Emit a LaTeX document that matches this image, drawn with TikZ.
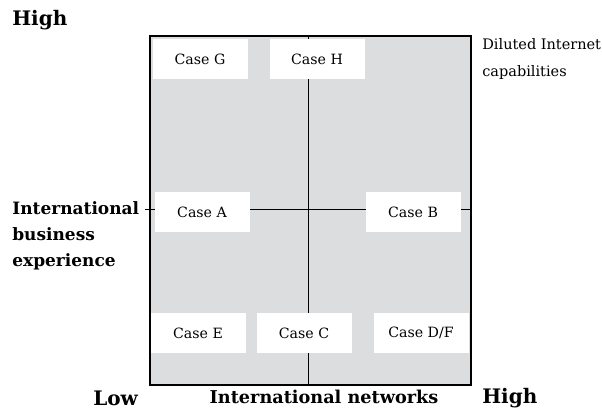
\documentclass[tikz,border=0pt]{standalone}
\usepackage{fontspec}
\setmainfont{DejaVu Serif}
\usetikzlibrary{positioning, calc}
\definecolor{fieldgray}{HTML}{DCDDDF}

\begin{document}
\begin{tikzpicture}[
  x=0.6pt, y=-0.6pt,
  casebox/.style={fill=white, minimum width=57pt, minimum height=24pt, inner sep=0pt, font=\fontsize{8.5}{10}\selectfont},
  axislabel/.style={font=\bfseries\fontsize{10.6}{15.6}\selectfont, inner sep=0pt},
  endlabel/.style={font=\bfseries\fontsize{12}{14}\selectfont, inner sep=0pt}
]
\useasboundingbox (0,0) rectangle (602,413);

% Grey field and cross lines
\coordinate (NW) at (150,36);
\coordinate (SE) at (471,385);
\fill[fieldgray] (NW) rectangle (SE);
\coordinate (midN) at (308,36);
\coordinate (midS) at (308,385);
\coordinate (midW) at (145,209);
\coordinate (midE) at (471,209);
\draw[line width=0.6pt] (midN) -- (midS);
\draw[line width=0.6pt] (midW) -- (midE);

% Cases
\node[casebox] (G)  at (200,59)  {Case G};
\node[casebox] (H)  at (317,59)  {Case H};
\node[casebox] (A)  at (202,212) {Case A};
\node[casebox] (B)  at (413,212) {Case B};
\node[casebox] (E)  at (198,333) {Case E};
\node[casebox] (C)  at (304,333) {Case C};
\node[casebox] (DF) at (421,333) {Case D/F};

\draw[line width=0.7pt] (NW) rectangle (SE);

% Axis labels
\node[endlabel, anchor=west]  (hiY)  at (12,20)  {High};
\node[axislabel, anchor=west, align=left, font=\bfseries\fontsize{10.2}{15.6}\selectfont] (ibe) at (12,236)
  {International\\business\\experience};
\node[endlabel, anchor=west]  (lo)   at (93,398) {Low};
\node[axislabel] (inet) at (324,397) {International networks};
\node[endlabel, anchor=west]  (hiX)  at (482,398) {High};
\node[anchor=west, align=left, inner sep=0pt, font=\fontsize{8.7}{16}\selectfont] (dil) at (482,59)
  {Diluted Internet\\capabilities};
\end{tikzpicture}
\end{document}
